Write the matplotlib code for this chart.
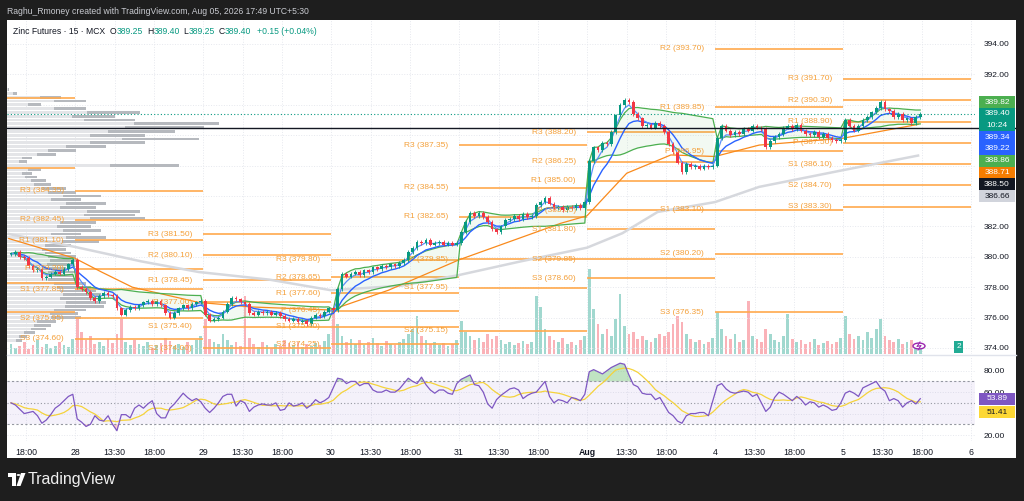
import numpy as np
import pandas as pd
import matplotlib
matplotlib.use("Agg")
import matplotlib.pyplot as plt
from matplotlib.patches import Rectangle, Circle, Polygon

plt.rcParams['font.family'] = ['Liberation Sans', 'DejaVu Sans']

# ---------------- data : 30 min closes ----------------
close_27 = [380.2, 380.3, 380.0, 379.9, 379.4, 379.1, 379.2, 378.6, 378.7, 378.9,
            379.0, 378.9, 379.2, 379.5, 379.8]
close_28 = [378.0, 377.9, 377.7, 377.3, 377.1, 377.4, 377.6, 377.5, 377.4, 376.6,
            376.2, 376.5, 376.7, 376.6, 376.8, 377.0, 377.1, 376.9, 377.1, 376.8,
            376.3, 376.0, 376.3, 376.6, 376.8, 376.6, 376.9, 377.0, 377.1]
close_29 = [376.2, 375.8, 375.9, 376.0, 376.4, 376.9, 377.3, 377.2, 377.0, 376.9,
            376.3, 376.2, 376.4, 376.3, 376.4, 376.2, 376.3, 376.1, 375.9, 375.8,
            375.9, 375.7, 375.8, 375.6, 376.0, 376.2, 376.1, 376.4, 376.6]
close_30 = [376.5, 377.9, 378.9, 378.7, 378.9, 379.0, 378.8, 379.1, 379.0, 379.3,
            379.2, 379.4, 379.3, 379.5, 379.4, 379.6, 379.8, 380.3, 380.6, 381.0,
            380.9, 381.1, 380.8, 380.9, 381.0, 380.8, 380.9, 380.8, 380.9]
close_31 = [381.6, 382.3, 382.9, 382.7, 382.9, 382.6, 382.3, 381.8, 381.6, 382.0,
            382.4, 382.5, 382.7, 382.5, 382.8, 382.6, 382.7, 383.4, 383.6, 383.9,
            383.5, 383.2, 383.3, 383.1, 383.3, 383.2, 383.4, 383.2, 383.6]
close_aug1 = [386.3, 387.2, 387.0, 387.5, 387.4, 388.2, 389.3, 390.0, 390.3, 390.2,
              389.4, 389.1, 388.6, 388.7, 388.5, 388.8, 388.6, 388.2, 387.4, 386.9,
              386.2, 385.6, 386.1, 385.9, 386.0, 385.8, 386.0, 385.9, 386.0]
close_aug4 = [387.8, 388.6, 388.3, 388.0, 388.2, 388.1, 388.4, 388.3, 388.6, 388.5,
              388.4, 387.2, 387.6, 387.9, 388.1, 388.5, 388.6, 388.4, 388.7, 388.3,
              388.1, 388.0, 388.2, 387.9, 388.1, 387.8, 387.7, 387.6, 387.7]
close_aug5 = [389.0, 388.6, 388.3, 388.6, 389.0, 389.2, 389.5, 389.8, 390.2, 389.7,
              389.6, 389.2, 389.4, 389.0, 389.1, 388.8, 389.2, 389.4]

vol_27 = [10, 6, 8, 12, 5, 9, 14, 7, 10, 6, 8, 12, 9, 7, 15]
vol_28 = [35, 22, 14, 18, 10, 12, 8, 15, 11, 20, 35, 12, 9, 14, 10, 8, 12, 6, 9, 11,
          16, 13, 8, 10, 7, 12, 9, 14, 18]
vol_29 = [35, 15, 12, 10, 20, 14, 9, 12, 8, 58, 16, 10, 7, 12, 9, 6, 10, 8, 14, 11,
          9, 12, 7, 10, 8, 11, 9, 13, 20]
vol_30 = [42, 30, 18, 12, 15, 10, 14, 9, 12, 16, 11, 8, 13, 10, 9, 12, 15, 20, 25, 38,
          18, 14, 10, 12, 9, 11, 8, 10, 14]
vol_31 = [33, 22, 18, 14, 16, 12, 20, 15, 18, 14, 10, 12, 9, 11, 13, 10, 12, 58, 47, 25,
          18, 14, 12, 16, 10, 12, 9, 14, 18]
vol_aug1 = [85, 45, 30, 20, 25, 18, 35, 60, 28, 20, 22, 15, 18, 14, 12, 16, 20, 18, 22, 30,
            38, 32, 20, 15, 12, 14, 10, 12, 16]
vol_aug4 = [42, 25, 18, 15, 20, 12, 14, 53, 18, 15, 12, 25, 20, 14, 12, 18, 40, 15, 12, 14,
            10, 12, 15, 9, 11, 13, 10, 12, 16]
vol_aug5 = [38, 20, 15, 18, 14, 22, 16, 25, 35, 18, 14, 12, 15, 10, 12, 14, 10, 8]

rsi_27 = [50, 48, 44, 40, 41, 42, 38, 31, 34, 39, 45, 48, 52, 56, 58]
rsi_28 = [35, 32, 28, 30, 38, 34, 33, 38, 30, 24, 39, 39, 36, 45, 48, 45, 49, 52, 40, 36,
          36, 45, 49, 54, 59, 55, 52, 54, 51]
rsi_29 = [45, 41, 45, 50, 56, 58, 58, 47, 52, 50, 42, 46, 48, 49, 48, 48, 50, 43, 44, 50,
          47, 48, 50, 45, 48, 53, 50, 52, 55]
rsi_30 = [64, 73, 72, 68, 70, 70, 66, 68, 68, 62, 60, 60, 62, 60, 60, 63, 68, 73, 70, 68,
          74, 67, 62, 59, 62, 62, 59, 58, 68]
rsi_31 = [72, 74, 76, 67, 66, 60, 49, 45, 53, 57, 60, 63, 64, 62, 54, 57, 59, 60, 65, 70,
          56, 50, 53, 52, 50, 55, 54, 52, 58]
rsi_aug1 = [79, 81, 79, 77, 80, 83, 85, 87, 86, 76, 67, 65, 59, 58, 58, 53, 55, 48, 41, 38,
            33, 31, 38, 40, 40, 41, 41, 38, 52]
rsi_aug4 = [66, 68, 63, 60, 59, 60, 61, 60, 56, 58, 50, 42, 46, 55, 60, 58, 55, 52, 56, 53,
            48, 51, 50, 46, 48, 46, 43, 44, 50]
rsi_aug5 = [59, 61, 59, 56, 64, 66, 68, 70, 64, 61, 52, 54, 52, 46, 50, 52, 49, 53.89]

# slow moving averages, read as points (bar index, price)
ema50_t = [0, 15, 21, 28, 43, 55, 73, 86, 102, 125, 131, 140, 150, 160, 170, 189, 206]
ema50_v = [381.2, 379.9, 379.0, 378.0, 377.0, 376.7, 376.5, 377.8, 379.8, 382.2, 382.7,
           385.5, 386.7, 386.6, 387.35, 387.8, 388.71]
ema200_t = [0, 15, 30, 43, 59, 73, 89, 102, 116, 131, 139, 147, 160, 170, 189, 206]
ema200_v = [381.5, 380.65, 379.7, 379.0, 378.5, 377.8, 378.1, 378.8, 379.7, 380.6, 381.55,
            382.95, 383.6, 384.6, 385.7, 386.66]

# daily pivots (R3, R2, R1, P, S1, S2, S3); None = off the chart
day_starts = [15, 44, 73, 102, 131, 160, 189]
pivots_28 = [384.35, 382.45, 381.10, 379.20, 377.85, 375.95, 374.60]
pivots_29 = [381.50, 380.10, 378.45, 377.00, 375.40, 374.00, None]
pivots_30 = [379.80, 378.65, 377.60, 376.45, 375.40, 374.25, None]
pivots_31 = [387.35, 384.55, 382.65, 379.85, 377.95, 375.15, None]
pivots_aug1 = [388.20, 386.25, 385.00, 383.05, 381.80, 379.85, 378.60]
pivots_aug4 = [None, 393.70, 389.85, 386.95, 383.10, 380.20, 376.35]
pivots_aug5 = [391.70, 390.30, 388.90, 387.50, 386.10, 384.70, 383.30]
pivots_27 = [390.45, 385.85, 378.30, 376.40]
pivot_names = ['R3', 'R2', 'R1', 'P', 'S1', 'S2', 'S3']

# visible range volume profile, top (391.00) to bottom in 0.25 steps
profile_top = 391.0
profile_step = 0.25
profile_vol = [2, 10, 55, 80, 35, 80, 135, 110, 130, 215, 200, 170, 140, 195, 140, 100,
               70, 50, 25, 20, 175, 35, 25, 30, 40, 45, 60, 70, 95, 75, 100, 90, 135,
               130, 140, 90, 85, 95, 75, 100, 93, 65, 60, 65, 70, 72, 68, 60, 70, 67,
               70, 80, 85, 90, 95, 90, 100, 98, 80, 72, 75, 50, 45, 40, 28, 20, 15]

tick_pos = [4, 15, 24, 33, 44, 53, 62, 73, 82, 91, 102, 111, 120, 131, 140, 149,
            160, 169, 178, 189, 198, 207, 218]
tick_lab = ['18:00', '28', '13:30', '18:00', '29', '13:30', '18:00', '30', '13:30',
            '18:00', '31', '13:30', '18:00', 'Aug', '13:30', '18:00', '4', '13:30',
            '18:00', '5', '13:30', '18:00', '6']

last_price = 389.40
hline_price = 388.50
badge_vals = ['389.82', '389.40', '389.34', '389.22', '388.86', '388.71', '388.50', '386.66']
badge_cols = ['#4caf50', '#089981', '#2962ff', '#2962ff', '#4caf50', '#f57c00', '#131722', '#d1d4dc']
countdown = '10:24'
rsi_badges = ['53.89', '51.41']
ohlc = ['389.25', '389.40', '389.25', '389.40']
change = '+0.15 (+0.04%)'

# ---------------- layout helpers ----------------
W, H = 1024, 501
def fx(px): return px / W
def fy(py): return 1 - py / H
def bar_at(px): return 15 + (px - 75) / 4.414
def price_at(py): return 394 - (py - 44) / 15.2
def rsi_at(py): return 80 - (py - 370.7) / 1.072

L, R = 7, 975
P_TOP, P_BOT = 20, 354
R_TOP, R_BOT = 356, 441
TEAL, RED = '#089981', '#f23645'
TXT = '#131722'
PIV_LINE, PIV_TXT = '#ffa94d', '#f4a03a'

closes = close_27 + close_28 + close_29 + close_30 + close_31 + close_aug1 + close_aug4 + close_aug5
volume = vol_27 + vol_28 + vol_29 + vol_30 + vol_31 + vol_aug1 + vol_aug4 + vol_aug5
rsi = np.array(rsi_27 + rsi_28 + rsi_29 + rsi_30 + rsi_31 + rsi_aug1 + rsi_aug4 + rsi_aug5)
sess = np.repeat(np.arange(8), [len(close_27)] + [29] * 6 + [len(close_aug5)])
n = len(closes)
x = np.arange(n) + 0.5
c = np.array(closes)
o = np.concatenate([[c[0]], c[:-1]])
up = c >= o

s = pd.Series(c)
ema_fast = s.ewm(span=3, adjust=False).mean()
ema_slow = s.ewm(span=8, adjust=False).mean()
g = s.groupby(sess)
vw = g.expanding().mean().reset_index(level=0, drop=True)
sd = g.expanding().std(ddof=0).reset_index(level=0, drop=True)
band_hi, band_lo = vw + sd, vw - sd
rsi_ma = pd.Series(rsi).rolling(7, min_periods=1).mean()

# ---------------- figure ----------------
fig = plt.figure(figsize=(10.24, 5.01), dpi=100)
fig.patch.set_facecolor('#1e1e1e')
fig.add_artist(Rectangle((fx(7), fy(458)), (1016 - 7) / W, (458 - 20) / H,
                         transform=fig.transFigure, facecolor='white', edgecolor='none', zorder=-1))
fig.add_artist(plt.Line2D([fx(7), fx(1016)], [fy(355), fy(355)], color='#e0e3eb', lw=1))

rect_p = [fx(L), fy(P_BOT), fx(R) - fx(L), fy(P_TOP) - fy(P_BOT)]
vax = fig.add_axes(rect_p)
ax = fig.add_axes(rect_p)
rax = fig.add_axes([fx(L), fy(R_BOT), fx(R) - fx(L), fy(R_TOP) - fy(R_BOT)])
xl = (bar_at(L), bar_at(R))
for a in (vax, ax, rax):
    a.set_xlim(*xl)
    a.patch.set_alpha(0)
    for sp in a.spines.values():
        sp.set_visible(False)

# volume
vax.bar(x, volume, width=0.62, color=np.where(up, TEAL, RED), alpha=0.38, linewidth=0)
vax.set_ylim(0, max(volume) / 0.255)
vax.axis('off')

ax.set_ylim(price_at(P_BOT), price_at(P_TOP))
ax.set_xticks(tick_pos)
ax.tick_params(axis='x', length=0, labelbottom=False)
ax.yaxis.tick_right()
yt = np.arange(374, 396, 2)
ax.set_yticks(yt)
ax.set_yticklabels(['' if v in (384, 386, 388, 390) else f'{v:.2f}' for v in yt])
ax.tick_params(axis='y', length=0, pad=6, labelsize=6, labelcolor=TXT)
ax.grid(True, linestyle=':', color='#e6e8ee', lw=0.7)
ax.set_axisbelow(True)

# volume profile
prof_p = profile_top - profile_step * np.arange(len(profile_vol))
pscale = 48.0 / max(profile_vol)
pv = np.array(profile_vol) * pscale
ax.barh(prof_p, pv * 0.6, left=xl[0], height=profile_step * 0.7, color='#e4e5e8', lw=0, zorder=1)
ax.barh(prof_p, pv * 0.4, left=xl[0] + pv * 0.6, height=profile_step * 0.7,
        color='#b6b9be', lw=0, zorder=1)

# pivots
ylo, yhi = ax.get_ylim()
for lv in pivots_27:
    ax.hlines(lv, xl[0], day_starts[0], color=PIV_LINE, lw=1.2, zorder=2)
all_piv = [pivots_28, pivots_29, pivots_30, pivots_31, pivots_aug1, pivots_aug4, pivots_aug5]
for k, piv in enumerate(all_piv):
    start = day_starts[k]
    end = day_starts[k + 1] if k + 1 < len(day_starts) else 218
    for name, lv in zip(pivot_names, piv):
        if lv is None or not (ylo < lv < yhi):
            continue
        ax.hlines(lv, start, end, color=PIV_LINE, lw=1.2, zorder=2)
        ax.annotate(f'{name} ({lv:.2f})', xy=(start, lv), xytext=(-8, 0),
                    textcoords='offset points', ha='right', va='center',
                    fontsize=6, color=PIV_TXT, zorder=6)

# indicators
ax.plot(ema200_t, ema200_v, color='#d6d8dd', lw=1.8, zorder=3)
ax.plot(ema50_t, ema50_v, color='#f98a1c', lw=0.9, zorder=3)
for k in range(8):
    m = sess == k
    ax.fill_between(x[m], band_lo[m], band_hi[m], color='#4caf50', alpha=0.07, lw=0, zorder=2)
ax.plot(x, band_hi, color='#4caf50', lw=0.9, zorder=3)
ax.plot(x, band_lo, color='#4caf50', lw=0.9, zorder=3)
ax.plot(x, ema_slow, color='#2962ff', lw=1.0, zorder=3)
ax.plot(x, ema_fast, color='#5b8ff9', lw=0.9, zorder=3)

# candles
wick = 0.12
cols = np.where(up, TEAL, RED)
ax.vlines(x, np.minimum(o, c) - wick, np.maximum(o, c) + wick, color=cols, lw=0.6, zorder=4)
ax.bar(x, np.maximum(np.abs(c - o), 0.04), bottom=np.minimum(o, c), width=0.62,
       color=cols, lw=0, zorder=4)

ax.axhline(last_price, color=TEAL, lw=0.8, ls=(0, (1, 2)), zorder=3)
ax.plot([xl[0], bar_at(1015)], [hline_price] * 2, color='#131722', lw=1.0, zorder=5, clip_on=False)

# RSI pane
rax.set_ylim(rsi_at(R_BOT), rsi_at(R_TOP))
rax.axhspan(30, 70, color='#7e57c2', alpha=0.08, lw=0)
for lv, ls in ((70, (0, (2, 2))), (50, (0, (1, 2))), (30, (0, (2, 2)))):
    rax.axhline(lv, color='#9598a1', lw=0.8, ls=ls)
rax.fill_between(x, rsi, 70, where=rsi > 70, interpolate=True, color='#4caf50', alpha=0.35, lw=0)
rax.fill_between(x, rsi, 30, where=rsi < 30, interpolate=True, color=RED, alpha=0.25, lw=0)
rax.plot(x, rsi_ma, color='#f5d33b', lw=0.9)
rax.plot(x, rsi, color='#7e57c2', lw=0.9)
rax.yaxis.tick_right()
rax.set_yticks([20, 40, 60, 80])
rax.set_yticklabels(['20.00', '', '60.00', '80.00'])
rax.set_xticks(tick_pos)
rax.set_xticklabels(tick_lab)
rax.tick_params(axis='both', length=0, labelsize=6, labelcolor=TXT)
rax.tick_params(axis='y', pad=6)
rax.tick_params(axis='x', pad=5, labelsize=6.3)
for t in rax.get_xticklabels():
    if t.get_text() == 'Aug':
        t.set_fontweight('bold')
rax.grid(True, linestyle=':', color='#e6e8ee', lw=0.7)
rax.set_axisbelow(True)

# price scale badges
def badge(py, text, col, h=11.5, tcol='white'):
    fig.add_artist(Rectangle((fx(979), fy(py + h / 2)), 36 / W, h / H, transform=fig.transFigure,
                             facecolor=col, edgecolor='none', zorder=5))
    fig.text(fx(997), fy(py), text, color=tcol, fontsize=6, ha='center', va='center', zorder=6)

slot = 0
for val, col in zip(badge_vals, badge_cols):
    py = 102 + slot * 11.75
    tcol = TXT if col == '#d1d4dc' else 'white'
    if val == f'{last_price:.2f}':
        fig.add_artist(Rectangle((fx(979), fy(py + 11.75 + 5.8)), 36 / W, 23.5 / H,
                                 transform=fig.transFigure, facecolor=col, edgecolor='none', zorder=5))
        fig.text(fx(997), fy(py), val, color='white', fontsize=6, ha='center', va='center', zorder=6)
        fig.text(fx(997), fy(py + 11.75), countdown, color='white', fontsize=6,
                 ha='center', va='center', zorder=6)
        slot += 2
    else:
        badge(py, val, col, tcol=tcol)
        slot += 1
badge(399, rsi_badges[0], '#7e57c2')
badge(412, rsi_badges[1], '#fdd835', tcol=TXT)

# small pane widgets
fig.add_artist(Rectangle((fx(954), fy(353)), 9 / W, 12 / H, transform=fig.transFigure,
                         facecolor='#22ab94', edgecolor='none', zorder=5))
fig.text(fx(958.5), fy(347), '2', color='white', fontsize=6, ha='center', va='center', zorder=6)
fig.add_artist(Circle((fx(919), fy(346)), 6 / W, transform=fig.transFigure,
                      facecolor='white', edgecolor='#9c27b0', lw=1, zorder=5))
fig.add_artist(plt.Line2D([fx(920), fx(917), fx(921), fx(918)], [fy(342), fy(346.5), fy(345.5), fy(350)],
                          color='#9c27b0', lw=0.8, zorder=6))

# texts
fig.text(fx(7), fy(11), 'Raghu_Rmoney created with TradingView.com, Aug 05, 2026 17:49 UTC+5:30',
         color='#c9cbd1', fontsize=6.2, va='center')

# legend row, laid out piece by piece
renderer = fig.canvas.get_renderer()
hy = fy(31)
pieces = [('Zinc Futures · 15 · MCX', TXT, 5), ('O', TXT, 0), (ohlc[0], TEAL, 4),
          ('H', TXT, 0), (ohlc[1], TEAL, 4), ('L', TXT, 0), (ohlc[2], TEAL, 4),
          ('C', TXT, 0), (ohlc[3], TEAL, 6), (change, TEAL, 0)]
cur = 13
for txt, col, gap in pieces:
    t = fig.text(fx(cur), hy, txt, color=col, fontsize=6.2, va='center')
    bb = t.get_window_extent(renderer)
    cur += bb.width + gap

# TradingView logo
fig.add_artist(Polygon([(fx(8), fy(473)), (fx(16), fy(473)), (fx(16), fy(486)), (fx(12), fy(486)),
                        (fx(12), fy(477)), (fx(8), fy(477))], closed=True, transform=fig.transFigure,
                       facecolor='white', edgecolor='none'))
fig.add_artist(Circle((fx(18.5), fy(475)), 1.9 / W, transform=fig.transFigure, facecolor='white'))
fig.add_artist(Polygon([(fx(21), fy(473)), (fx(25.5), fy(473)), (fx(20.5), fy(486)), (fx(16.5), fy(486))],
                       closed=True, transform=fig.transFigure, facecolor='white', edgecolor='none'))
fig.text(fx(28), fy(479.5), 'TradingView', color='#f0f0f0', fontsize=11.5, va='center')

fig.savefig('out.png', dpi=100, facecolor=fig.get_facecolor())
